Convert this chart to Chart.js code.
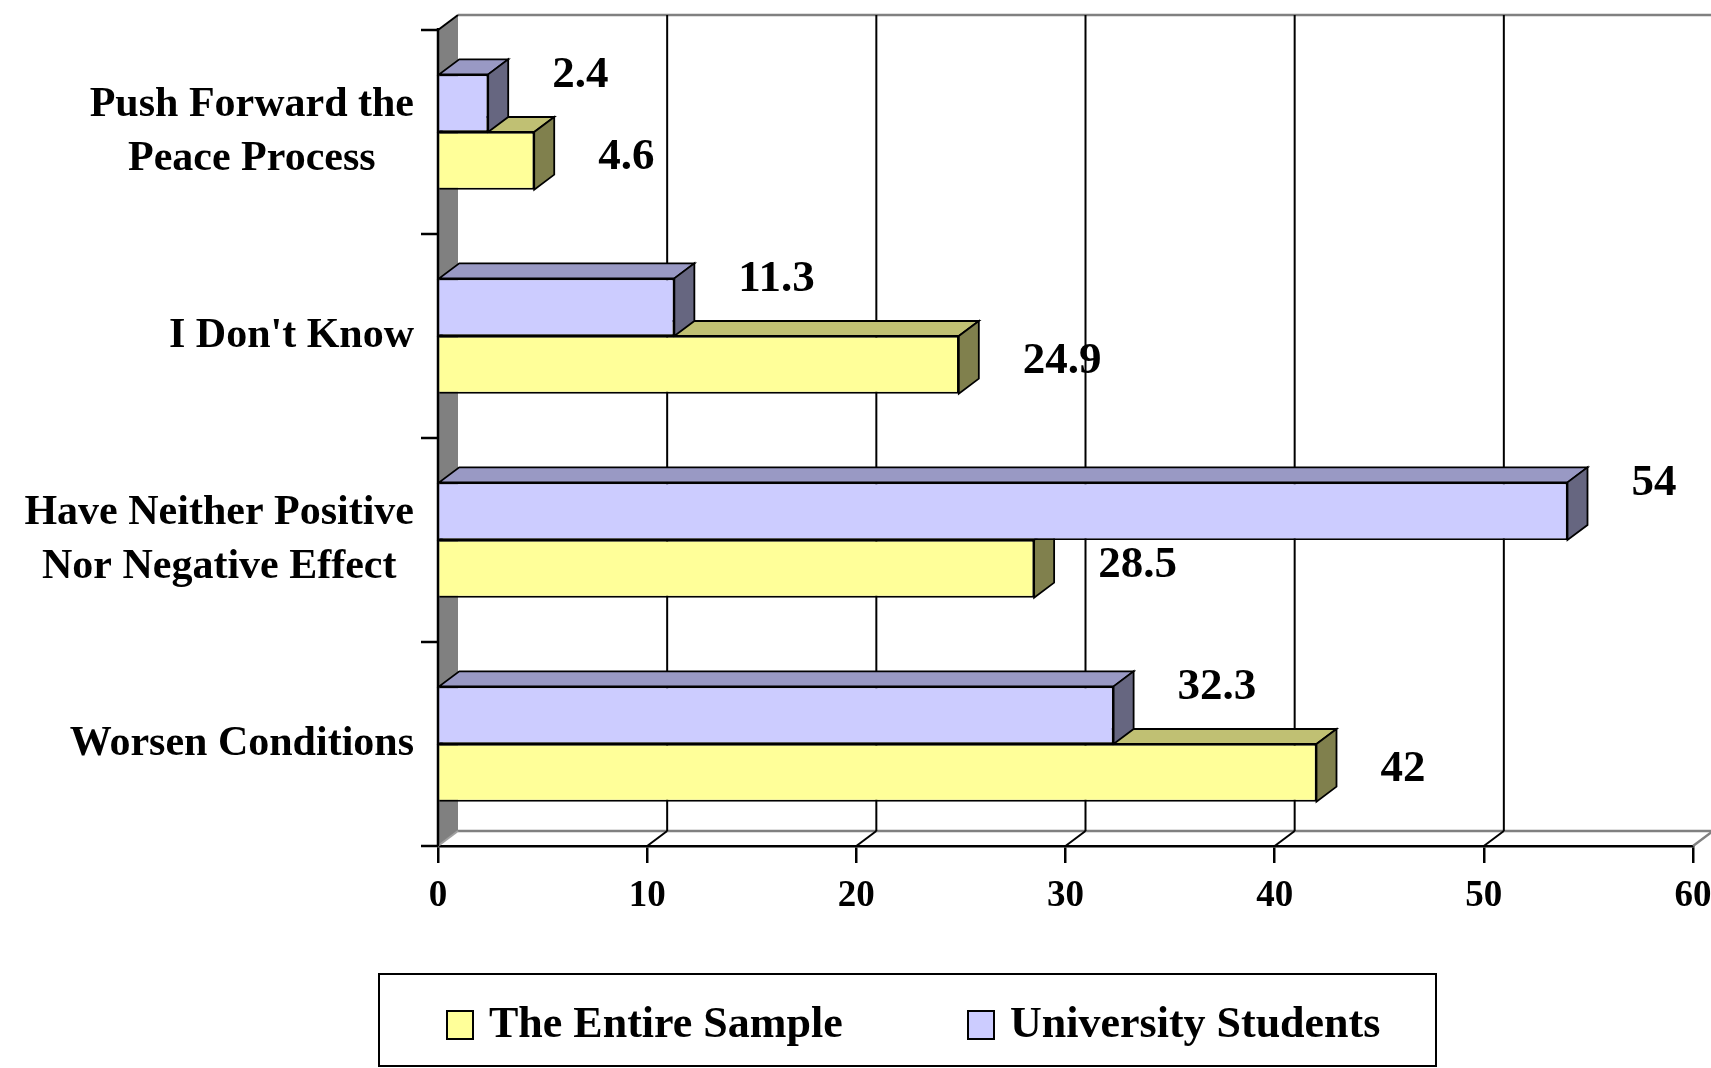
<!DOCTYPE html>
<html>
<head>
<meta charset="utf-8">
<script src="https://cdn.jsdelivr.net/npm/chart.js@4.4.1/dist/chart.umd.min.js"></script>
<style>
    html, body { margin: 0; padding: 0; background: #fff; }
    canvas { display: block; }
</style>
</head>
<body>
<canvas id="effect-chart" width="1711" height="1068"></canvas>
<script>
// categories top to bottom, each an array of label lines
const categories = [
    ['Push Forward the', 'Peace Process'],
    ["I Don't Know"],
    ['Have Neither Positive', 'Nor Negative Effect'],
    ['Worsen Conditions']
];
const universityStudents = [2.4, 11.3, 54, 32.3];
const entireSample = [4.6, 24.9, 28.5, 42];
const xTickValues = [0, 10, 20, 30, 40, 50, 60];

const serif = "'Liberation Serif', 'Times New Roman', serif";
const depthX = 20;
const depthY = -15;

function poly(ctx, pts, fill, stroke, width) {
    ctx.beginPath();
    ctx.moveTo(pts[0][0], pts[0][1]);
    for (let i = 1; i < pts.length; i++) ctx.lineTo(pts[i][0], pts[i][1]);
    ctx.closePath();
    if (fill) { ctx.fillStyle = fill; ctx.fill(); }
    if (stroke) { ctx.strokeStyle = stroke; ctx.lineWidth = width || 1.5; ctx.stroke(); }
}

function line(ctx, x1, y1, x2, y2, color, width) {
    ctx.beginPath();
    ctx.moveTo(x1, y1);
    ctx.lineTo(x2, y2);
    ctx.strokeStyle = color;
    ctx.lineWidth = width || 2;
    ctx.stroke();
}

// walls, floor, grid and the top/side faces of the bars
const box3d = {
    id: 'box3d',
    beforeDatasetsDraw(chart) {
        const { ctx, chartArea: a, scales: { x } } = chart;
        ctx.save();

        // side wall
        poly(ctx, [[a.left, a.top], [a.left + depthX, a.top + depthY],
            [a.left + depthX, a.bottom + depthY], [a.left, a.bottom]], '#808080');

        // back wall and floor edges
        line(ctx, a.left + depthX, a.top + depthY, a.right + depthX, a.top + depthY, '#808080', 2.5);
        line(ctx, a.left + depthX, a.bottom + depthY, a.right + depthX, a.bottom + depthY, '#808080', 2.5);
        line(ctx, a.right, a.bottom, a.right + depthX, a.bottom + depthY, '#808080', 2.5);
        line(ctx, a.left, a.bottom, a.left + depthX, a.bottom + depthY, '#a0a0a0', 2);

        // grid lines on the back wall and floor
        xTickValues.forEach(v => {
            if (v === xTickValues[0] || v === xTickValues[xTickValues.length - 1]) return;
            const px = x.getPixelForValue(v);
            line(ctx, px + depthX, a.top + depthY, px + depthX, a.bottom + depthY, '#000', 2);
            line(ctx, px, a.bottom, px + depthX, a.bottom + depthY, '#000', 2);
        });

        // wall front edge, top edge, category ticks
        line(ctx, a.left, a.top - 2, a.left, a.bottom, '#000', 2.5);
        line(ctx, a.left, a.top, a.left + depthX, a.top + depthY, '#000', 2);
        const n = categories.length;
        for (let k = 0; k <= n; k++) {
            const yk = a.top + k * a.height / n;
            line(ctx, a.left - 17, yk, a.left, yk, '#000', 2.5);
        }

        // bar faces, lowest bars first so upper bars cover them
        const bars = [];
        chart.data.datasets.forEach((ds, i) => {
            chart.getDatasetMeta(i).data.forEach(bar => bars.push({ bar, ds }));
        });
        bars.sort((p, q) => q.bar.y - p.bar.y);
        bars.forEach(({ bar, ds }) => {
            const top = bar.y - bar.height / 2;
            const bottom = bar.y + bar.height / 2;
            const left = Math.min(bar.base, bar.x);
            const right = Math.max(bar.base, bar.x);
            poly(ctx, [[left, top], [right, top], [right + depthX, top + depthY], [left + depthX, top + depthY]],
                ds.topColor, '#000', 1.8);
            poly(ctx, [[right, top], [right + depthX, top + depthY], [right + depthX, bottom + depthY], [right, bottom]],
                ds.sideColor, '#000', 1.8);
        });
        ctx.restore();
    },
    afterDatasetsDraw(chart) {
        const { ctx } = chart;
        ctx.save();
        ctx.font = `bold 45px ${serif}`;
        ctx.fillStyle = '#000';
        ctx.textAlign = 'left';
        ctx.textBaseline = 'middle';
        chart.data.datasets.forEach((ds, i) => {
            chart.getDatasetMeta(i).data.forEach((bar, j) => {
                ctx.fillText(String(ds.data[j]), bar.x + 64, bar.y - ds.labelLift);
            });
        });
        ctx.restore();
    },
    afterDraw(chart) {
        const { ctx, chartArea: a, scales: { y } } = chart;
        ctx.save();
        ctx.fillStyle = '#000';
        ctx.textBaseline = 'middle';
        ctx.textAlign = 'center';

        // category labels: block right-aligned, lines centred in the block
        ctx.font = `bold 42px ${serif}`;
        const lineH = 54;
        const rightEdge = a.left - 24;
        chart.data.labels.forEach((lines, i) => {
            const cy = y.getPixelForValue(i);
            const w = Math.max(...lines.map(t => ctx.measureText(t).width));
            lines.forEach((t, k) => {
                ctx.fillText(t, rightEdge - w / 2, cy + (k - (lines.length - 1) / 2) * lineH);
            });
        });

        // legend box
        const box = { left: 379, top: 974, right: 1436, bottom: 1066 };
        ctx.strokeStyle = '#000';
        ctx.lineWidth = 2;
        ctx.strokeRect(box.left, box.top, box.right - box.left, box.bottom - box.top);
        const items = chart.data.datasets.slice().reverse();
        const itemX = [box.left + 68, box.left + 589];
        const cy = (box.top + box.bottom) / 2 + 6;
        ctx.font = `bold 44px ${serif}`;
        ctx.textAlign = 'left';
        items.forEach((ds, i) => {
            ctx.fillStyle = ds.backgroundColor;
            ctx.fillRect(itemX[i], cy - 15, 26, 28);
            ctx.strokeRect(itemX[i], cy - 15, 26, 28);
            ctx.fillStyle = '#000';
            ctx.fillText(ds.label, itemX[i] + 42, cy);
        });
        ctx.restore();
    }
};

new Chart(document.getElementById('effect-chart'), {
    type: 'bar',
    data: {
        labels: categories,
        datasets: [{
            label: 'University Students',
            data: universityStudents,
            backgroundColor: '#CCCCFF',
            topColor: '#9999C4',
            sideColor: '#666680',
            labelLift: 28,
            borderColor: '#000',
            borderWidth: 1.8,
            categoryPercentage: 0.565,
            barPercentage: 1
        }, {
            label: 'The Entire Sample',
            data: entireSample,
            backgroundColor: '#FFFF99',
            topColor: '#C0C073',
            sideColor: '#80804D',
            labelLift: 3,
            borderColor: '#000',
            borderWidth: 1.8,
            categoryPercentage: 0.565,
            barPercentage: 1
        }]
    },
    options: {
        indexAxis: 'y',
        responsive: false,
        animation: false,
        layout: { padding: { left: 438, right: 18, top: 30, bottom: 152 } },
        plugins: {
            legend: { display: false },
            tooltip: { enabled: false }
        },
        scales: {
            x: {
                min: 0,
                max: 60,
                afterBuildTicks: scale => { scale.ticks = xTickValues.map(v => ({ value: v })); },
                afterFit: scale => {
                    scale.height = 70;
                    scale.paddingLeft = 0;
                    scale.paddingRight = 0;
                },
                grid: { drawOnChartArea: false, drawTicks: true, tickLength: 17, color: '#000', lineWidth: 2.5 },
                border: { display: true, color: '#000', width: 2.5 },
                ticks: {
                    color: '#000',
                    padding: 11,
                    maxRotation: 0,
                    font: { family: serif, size: 37, weight: 'bold' }
                }
            },
            y: {
                display: false
            }
        }
    },
    plugins: [box3d]
});
</script>
</body>
</html>
